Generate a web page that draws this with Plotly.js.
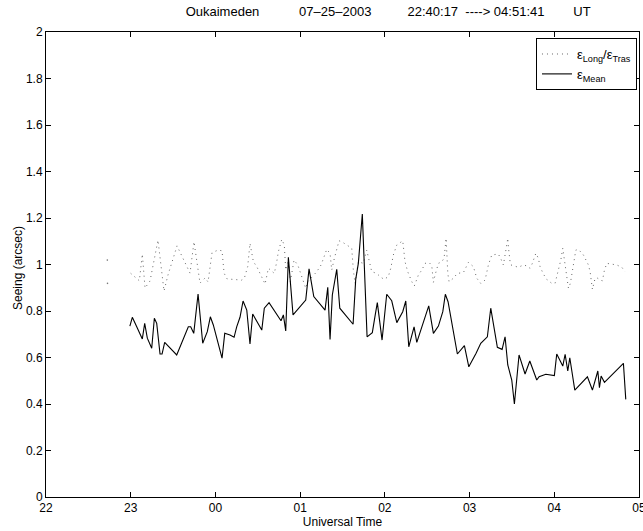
<!DOCTYPE html>
<html>
<head>
<meta charset="utf-8">
<script src="https://cdn.plot.ly/plotly-3.0.1.min.js"></script>
<style>html,body{margin:0;padding:0;background:#fff;}#chart{width:643px;height:531px;}</style>
</head>
<body>
<div id="chart"></div>
<script>
// Time in decimal hours UT (values >24 are after midnight)
const meanTime = [22.99,23.019,23.071,23.118,23.137,23.165,23.196,23.248,23.279,23.307,23.346,23.370,23.401,23.543,23.680,23.708,23.744,23.795,23.850,23.904,23.940,23.975,24.078,24.110,24.172,24.220,24.251,24.290,24.326,24.370,24.408,24.440,24.547,24.577,24.633,24.774,24.802,24.830,24.861,24.916,25.066,25.105,25.161,25.294,25.326,25.353,25.380,25.432,25.468,25.625,25.656,25.687,25.734,25.790,25.852,25.884,25.911,25.967,26.022,26.081,26.141,26.211,26.247,26.282,26.345,26.377,26.518,26.573,26.632,26.684,26.714,26.746,26.856,26.939,26.991,27.077,27.132,27.210,27.250,27.328,27.384,27.419,27.451,27.498,27.529,27.584,27.655,27.711,27.793,27.821,27.900,28.001,28.029,28.100,28.128,28.159,28.183,28.242,28.391,28.450,28.482,28.514,28.533,28.553,28.592,28.816,28.844];
const meanSeeing = [0.735,0.773,0.732,0.689,0.680,0.747,0.683,0.640,0.769,0.747,0.615,0.615,0.665,0.611,0.732,0.732,0.704,0.873,0.661,0.711,0.775,0.740,0.597,0.704,0.697,0.687,0.732,0.773,0.843,0.804,0.658,0.787,0.718,0.812,0.836,0.758,0.783,0.714,1.031,0.783,0.847,0.981,0.862,0.804,0.902,0.678,0.869,0.979,0.812,0.743,0.936,1.005,1.217,0.689,0.707,0.778,0.836,0.675,0.872,0.844,0.750,0.797,0.843,0.646,0.732,0.665,0.822,0.704,0.735,0.797,0.872,0.840,0.615,0.651,0.560,0.618,0.661,0.689,0.812,0.644,0.635,0.689,0.568,0.503,0.400,0.611,0.529,0.585,0.503,0.517,0.528,0.522,0.615,0.563,0.614,0.542,0.599,0.460,0.517,0.460,0.496,0.542,0.470,0.520,0.493,0.575,0.420];

const ratioTimeStart = [22.724,22.726];
const ratioStart = [1.019,0.919];

const ratioTime = [23.000,23.051,23.102,23.137,23.169,23.228,23.322,23.393,23.440,23.547,23.606,23.700,23.747,23.818,23.877,23.913,23.960,24.031,24.078,24.102,24.137,24.251,24.310,24.341,24.381,24.408,24.448,24.488,24.547,24.586,24.625,24.665,24.695,24.724,24.743,24.783,24.813,24.830,24.861,24.884,24.928,24.972,25.019,25.066,25.090,25.144,25.196,25.247,25.314,25.353,25.373,25.404,25.459,25.491,25.550,25.609,25.628,25.648,25.687,25.746,25.786,25.813,25.845,25.904,25.943,25.991,26.041,26.070,26.100,26.141,26.211,26.238,26.270,26.318,26.348,26.396,26.436,26.475,26.525,26.554,26.573,26.593,26.632,26.672,26.699,26.723,26.731,26.743,26.758,26.809,26.856,26.927,26.986,27.045,27.085,27.132,27.183,27.222,27.262,27.340,27.372,27.399,27.439,27.451,27.460,27.466,27.478,27.490,27.537,27.576,27.635,27.675,27.714,27.741,27.782,27.812,27.832,27.871,27.911,27.970,28.009,28.048,28.077,28.100,28.128,28.151,28.167,28.190,28.226,28.254,28.285,28.344,28.403,28.423,28.450,28.482,28.514,28.541,28.568,28.592,28.620,28.671,28.738,28.797,28.836];
const ratioSeeing = [0.962,0.948,0.930,1.045,0.899,0.929,1.105,0.886,0.955,1.080,1.034,0.963,1.098,0.920,0.942,0.925,1.051,1.062,1.059,0.963,0.938,0.933,0.933,0.941,0.991,1.091,1.012,0.991,0.948,0.916,0.984,0.969,0.962,1.012,1.055,1.108,1.084,0.976,1.019,0.926,1.019,0.998,0.948,0.898,0.926,0.948,0.969,0.998,1.065,1.048,0.976,1.027,1.102,1.098,1.084,1.070,0.976,0.919,1.012,1.005,1.062,1.019,0.969,0.962,0.948,0.936,0.948,0.984,1.041,1.084,1.102,1.012,0.969,0.926,0.908,0.955,0.976,1.005,1.008,0.994,0.923,0.955,1.005,1.012,1.027,1.113,1.041,0.962,0.926,0.941,0.962,0.965,1.009,0.991,0.941,0.919,0.933,0.998,1.041,1.045,1.022,0.998,1.084,1.113,1.070,1.034,1.012,0.998,0.991,0.988,0.998,0.994,0.984,1.005,1.048,1.027,0.991,0.959,0.936,0.919,0.919,0.976,1.019,1.070,1.005,0.933,0.898,0.919,0.991,1.062,1.065,1.041,0.998,0.969,0.893,0.941,0.941,0.933,0.930,0.976,1.005,1.001,0.998,0.988,0.969];

const xTickVals = [22,23,24,25,26,27,28,29];
const xTickText = ['22','23','00','01','02','03','04','05'];

const FONT = 'Liberation Sans, Arial, Helvetica, sans-serif';
const nb = '\u00A0';
const titleText = 'Oukaimeden' + nb.repeat(11) + '07–25–2003' + nb.repeat(10) + '22:40:17' + nb.repeat(2) + '---->' + nb + '04:51:41' + nb.repeat(8) + 'UT';

const traces = [
  {
    x: ratioTime, y: ratioSeeing, type: 'scatter', mode: 'lines',
    name: 'ε<sub>Long</sub>/ε<sub>Tras</sub>',
    line: {color: '#666', width: 1, dash: '1px,4px'}
  },
  {
    x: meanTime, y: meanSeeing, type: 'scatter', mode: 'lines',
    name: 'ε<sub>Mean</sub>',
    line: {color: '#000', width: 1.1}
  },
  {
    x: ratioTimeStart, y: ratioStart, type: 'scatter', mode: 'markers',
    showlegend: false, hoverinfo: 'skip',
    marker: {color: '#777', size: 1.6}
  }
];

const axisCommon = {
  showline: true, linecolor: '#000', linewidth: 1, mirror: 'ticks',
  ticks: 'inside', ticklen: 5, tickwidth: 1, tickcolor: '#000',
  showgrid: false, zeroline: false, automargin: false,
  ticklabeloverflow: 'allow',
  tickfont: {family: FONT, size: 12, color: '#000'}
};

const layout = {
  width: 643, height: 531,
  margin: {l: 46, r: 4, t: 32, b: 34},
  paper_bgcolor: '#fff', plot_bgcolor: '#fff',
  font: {family: FONT, size: 12, color: '#000'},
  showlegend: true,
  title: {
    text: titleText, font: {family: FONT, size: 13, color: '#000'},
    x: 0.577, xref: 'paper', xanchor: 'center',
    y: 1, yref: 'container', yanchor: 'top', pad: {t: 7}
  },
  xaxis: Object.assign({}, axisCommon, {
    range: [22, 29], tickmode: 'array', tickvals: xTickVals, ticktext: xTickText,
    title: {text: 'Universal Time', font: {family: FONT, size: 12, color: '#000'}, standoff: 3}
  }),
  yaxis: Object.assign({}, axisCommon, {
    range: [0, 2], dtick: 0.2, tick0: 0
  }),
  annotations: [
    {text: 'Seeing (arcsec)', textangle: -90, xref: 'paper', yref: 'paper',
     x: -0.0472, y: 0.4925, xanchor: 'center', yanchor: 'middle', showarrow: false,
     font: {family: FONT, size: 12, color: '#000'}}
  ],
  legend: {
    x: 0.9966, xanchor: 'right', y: 0.987, yanchor: 'top',
    bgcolor: '#fff', bordercolor: '#000', borderwidth: 1,
    font: {family: FONT, size: 13, color: '#000'},
    itemwidth: 30, tracegroupgap: 0
  }
};

Plotly.newPlot('chart', traces, layout, {displayModeBar: false, staticPlot: true});
</script>
</body>
</html>
